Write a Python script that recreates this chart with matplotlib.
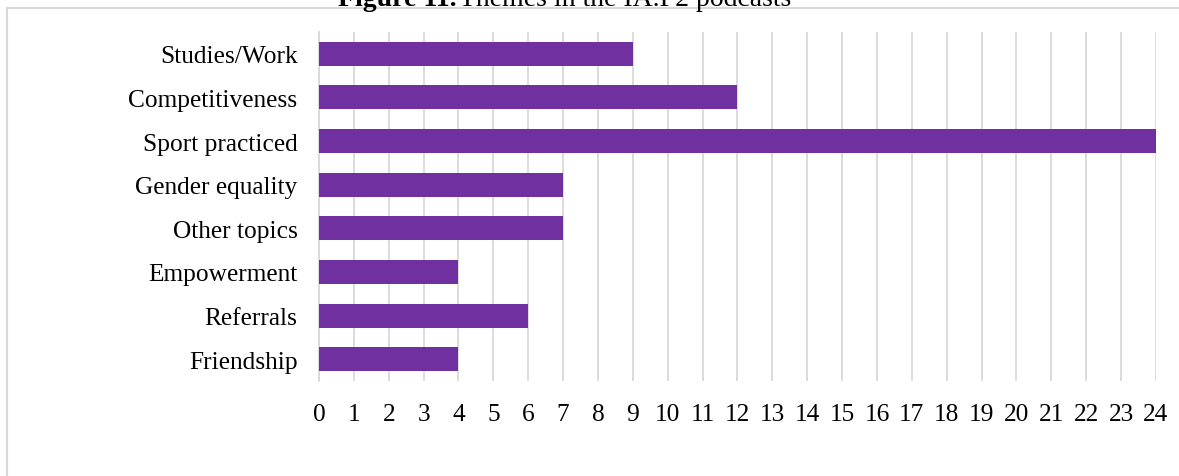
import matplotlib.pyplot as plt
from matplotlib.patches import Rectangle

# Themes and number of mentions
themes = ['Studies/Work', 'Competitiveness', 'Sport practiced', 'Gender equality',
          'Other topics', 'Empowerment', 'Referrals', 'Friendship']
counts = [9, 12, 24, 7, 7, 4, 6, 4]
xticks = list(range(0, 25))

plt.rcParams['font.family'] = ['Liberation Serif', 'DejaVu Serif']

W, H = 1179, 477
fig = plt.figure(figsize=(W / 100, H / 100), dpi=100)
ax = fig.add_axes([319 / W, 1 - 382 / H, (1156 - 319) / W, (382 - 33) / H])

ypos = list(range(len(themes)))
ax.barh(ypos, counts, height=0.55, color='#7030a0', zorder=3)

ax.set_ylim(len(themes) - 0.5, -0.5)
ax.set_xlim(0, 24)
ax.set_yticks(ypos)
ax.set_yticklabels(themes, fontsize=18.3)
ax.set_xticks(xticks)
ax.set_xticklabels([str(t) for t in xticks], fontsize=18.3)

ax.grid(axis='x', color='#d9d9d9', linewidth=1.3, zorder=0)
for s in ['top', 'right', 'bottom']:
    ax.spines[s].set_visible(False)
ax.spines['left'].set_color('#d9d9d9')
ax.spines['left'].set_linewidth(1.3)
ax.tick_params(axis='y', length=0, pad=15.5)
ax.tick_params(axis='x', length=0, pad=16)

# chart frame
fig.patches.append(Rectangle((7 / W, -0.1), 1.2, 1 - 9 / H + 0.1, transform=fig.transFigure,
                             fill=False, edgecolor='#d9d9d9', linewidth=1.5))

# caption, partly cut off at the top as in the source
fig.text(338 / W, 1 - 6 / H, 'Figure 11.', fontsize=20, fontweight='bold', va='baseline')
fig.text(459 / W, 1 - 6 / H, 'Themes in the IA.F2 podcasts', fontsize=20, va='baseline')

fig.savefig('out.png', dpi=100)
